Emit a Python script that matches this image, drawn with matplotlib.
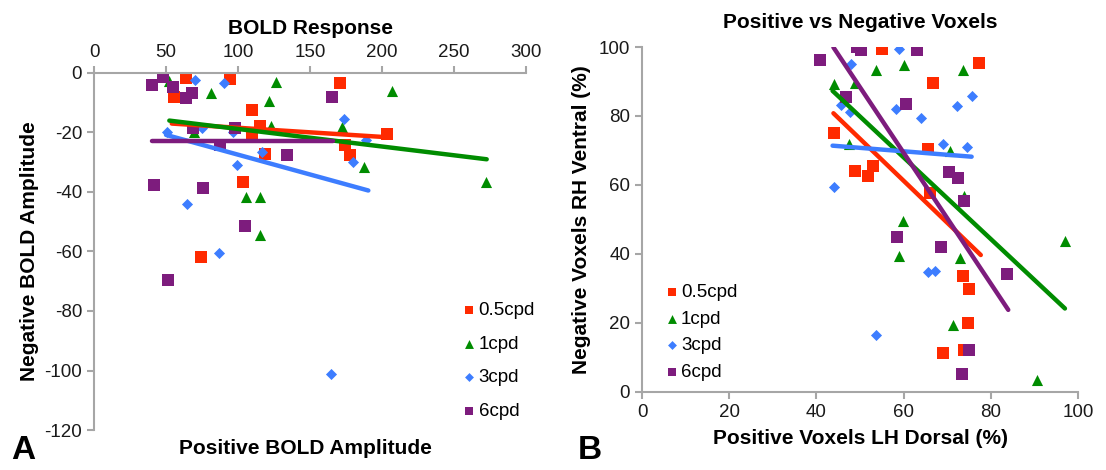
import numpy as np
import matplotlib
matplotlib.use("Agg")
import matplotlib.pyplot as plt

plt.rcParams['font.family'] = ['Liberation Sans', 'DejaVu Sans']
plt.rcParams['axes.unicode_minus'] = False

labels = ["0.5cpd", "1cpd", "3cpd", "6cpd"]
colors = ["#ff2a00", "#008c00", "#3d7dff", "#7d1c7d"]
markers = ["s", "^", "D", "s"]
sizes = [64, 64, 32, 64]

# ---- panel A : BOLD response ----
a_red_x = [64, 94.5, 55.5, 109.5, 115, 109.5, 118.7, 103.7, 74, 171, 174, 178, 203.7]
a_red_y = [-1.8, -2.1, -8, -12.4, -17.8, -20.8, -27.2, -36.5, -62, -3.5, -24.2, -27.6, -20.6]
a_green_x = [52, 81, 126.4, 121.7, 123, 69.4, 105.5, 115, 115, 206.7, 172, 187.5, 272]
a_green_y = [-2.6, -6.8, -2.9, -9.3, -17.8, -19.7, -41.8, -41.8, -54.5, -5.9, -18.3, -31.5, -36.5]
a_blue_x = [70, 90, 50.5, 74.8, 96.8, 117, 99, 64.4, 87, 164.4, 173.6, 179.6, 189]
a_blue_y = [-2.4, -3.3, -19.7, -18.6, -20, -26.4, -31, -44, -60.4, -101.2, -15.6, -29.8, -22.5]
a_purple_x = [40, 48, 55, 64, 68, 69, 98, 87.5, 134, 41.7, 75.5, 105, 165, 51.4]
a_purple_y = [-4.0, -1.2, -4.6, -8.5, -6.6, -18.6, -18.6, -24.2, -27.6, -37.6, -38.8, -51.4, -8.2, -69.6]

# trend line end points (x0, x1), (y0, y1)
a_fit_x = [[54, 204], [52.3, 272.7], [50, 190.5], [40, 166]]
a_fit_y = [[-17, -21.6], [-16, -29], [-20.8, -39.5], [-22.7, -22.7]]

# ---- panel B : positive vs negative voxels ----
b_red_x = [44, 55.1, 77.4, 66.8, 65.7, 48.9, 52.9, 51.9, 66, 73.7, 74.9, 74.7, 69.1, 73.9]
b_red_y = [75.2, 99.4, 95.3, 89.7, 70.3, 64.2, 65.5, 62.6, 57.8, 33.6, 29.8, 20.1, 11.2, 12.2]
b_green_x = [44, 53.7, 60, 73.6, 48.9, 47.5, 70.6, 73.9, 59.8, 59, 72.9, 97, 71.3, 90.7]
b_green_y = [89.3, 93.3, 94.8, 93.3, 89.7, 72, 69.9, 56.8, 49.7, 39.4, 38.7, 43.9, 19.4, 3.5]
b_blue_x = [44, 59, 47.9, 75.6, 45.6, 47.7, 58.3, 72.3, 64, 69.1, 74.6, 65.7, 67.2, 53.7]
b_blue_y = [59.3, 99.4, 95, 85.8, 83.2, 81.2, 82, 82.9, 79.5, 72, 70.9, 34.9, 35.1, 16.5]
b_purple_x = [40.8, 46.8, 49.4, 50.2, 63, 60.6, 70.3, 72.5, 73.9, 58.4, 68.5, 83.8, 75.1, 73.3]
b_purple_y = [96.2, 85.6, 100, 99.1, 99.1, 83.5, 63.7, 61.9, 55.5, 44.8, 42.1, 34.2, 12.2, 5.1]

b_fit_x = [[43.9, 77.7], [43.7, 97], [43.7, 75.6], [43.9, 84]]
b_fit_y = [[80.8, 39.7], [87.3, 24.2], [71.4, 68.2], [99.9, 23.8]]

a_x = [a_red_x, a_green_x, a_blue_x, a_purple_x]
a_y = [a_red_y, a_green_y, a_blue_y, a_purple_y]
b_x = [b_red_x, b_green_x, b_blue_x, b_purple_x]
b_y = [b_red_y, b_green_y, b_blue_y, b_purple_y]

fig = plt.figure(figsize=(11.06, 4.70), dpi=100)
axA = fig.add_axes([0.085, 0.0851, 0.3906, 0.7596])
axB = fig.add_axes([0.5805, 0.166, 0.3942, 0.734])

spine_col = "#a6a6a6"

def style(ax):
    for s in ax.spines.values():
        s.set_color(spine_col)
        s.set_linewidth(1.5)
    ax.tick_params(colors=spine_col, labelcolor="#1a1a1a", labelsize=13.5,
                   width=1.5, length=5, direction="out")

# panel A
for i in range(4):
    axA.scatter(a_x[i], a_y[i], s=sizes[i], marker=markers[i], color=colors[i],
                label=labels[i], zorder=2, linewidths=0)
    axA.plot(a_fit_x[i], a_fit_y[i], color=colors[i], lw=3.2,
             solid_capstyle="round", zorder=3)
axA.set_xlim(0, 300)
axA.set_ylim(-120, 0)
axA.set_xticks(np.arange(0, 301, 50))
axA.set_yticks(np.arange(-120, 1, 20))
axA.xaxis.tick_top()
axA.spines["right"].set_visible(False)
axA.spines["bottom"].set_visible(False)
style(axA)
axA.set_title("BOLD Response", fontsize=15, fontweight="bold", pad=28)
axA.set_ylabel("Negative BOLD Amplitude", fontsize=15, fontweight="bold", labelpad=4)
fig.text(0.276, 0.045, "Positive BOLD Amplitude", fontsize=15, fontweight="bold",
         ha="center", va="center")
legA = axA.legend(loc="upper left", bbox_to_anchor=(0.825, 0.38), frameon=False,
                  fontsize=13.5, handletextpad=-0.1, labelspacing=0.88,
                  borderaxespad=0, handlelength=1.2, markerscale=0.8)

# panel B
for i in range(4):
    axB.scatter(b_x[i], b_y[i], s=sizes[i], marker=markers[i], color=colors[i],
                label=labels[i], zorder=2, linewidths=0)
    axB.plot(b_fit_x[i], b_fit_y[i], color=colors[i], lw=3.2,
             solid_capstyle="round", zorder=3)
axB.set_xlim(0, 100)
axB.set_ylim(0, 100)
axB.set_xticks(np.arange(0, 101, 20))
axB.set_yticks(np.arange(0, 101, 20))
axB.spines["right"].set_visible(False)
axB.spines["top"].set_visible(False)
style(axB)
axB.set_title("Positive vs Negative Voxels", fontsize=15, fontweight="bold", pad=14)
axB.set_ylabel("Negative Voxels RH Ventral (%)", fontsize=15, fontweight="bold", labelpad=6)
axB.set_xlabel("Positive Voxels LH Dorsal (%)", fontsize=15, fontweight="bold", labelpad=6)
legB = axB.legend(loc="upper left", bbox_to_anchor=(0.025, 0.335), frameon=False,
                  fontsize=13.5, handletextpad=-0.1, labelspacing=0.5,
                  borderaxespad=0, handlelength=1.2, markerscale=0.8)

fig.text(0.01, 0.008, "A", fontsize=24, fontweight="bold", ha="left", va="bottom")
fig.text(0.522, 0.008, "B", fontsize=24, fontweight="bold", ha="left", va="bottom")

fig.savefig("out.png", dpi=100)
